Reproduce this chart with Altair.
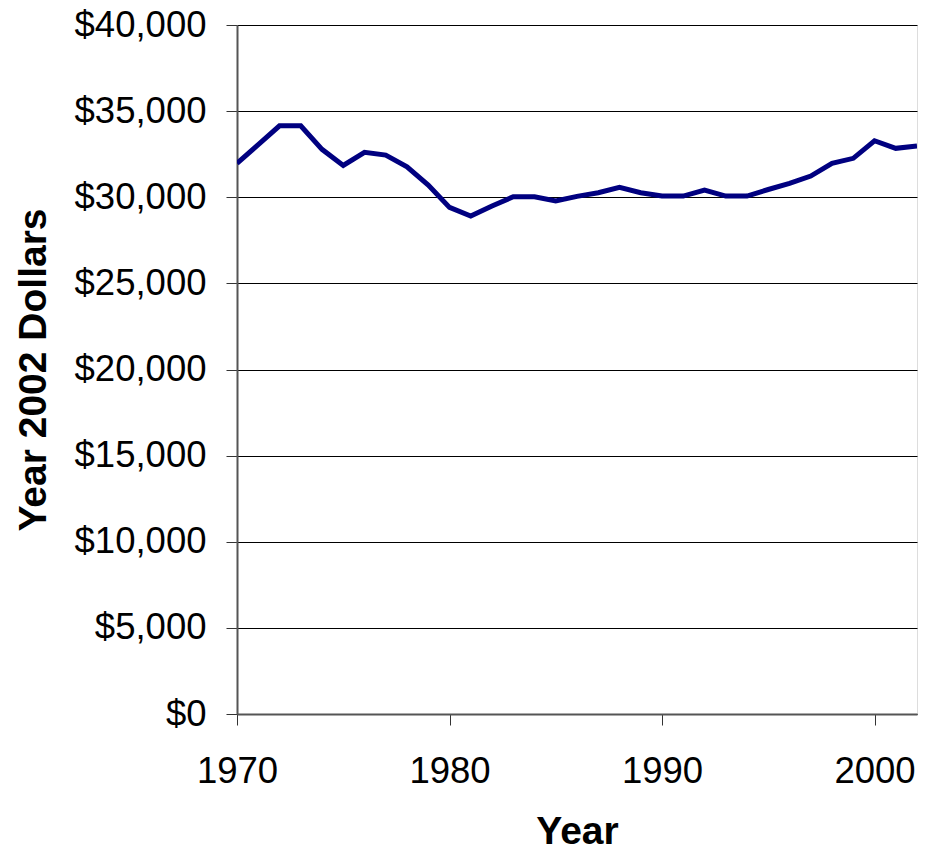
import altair as alt
import pandas as pd

years = list(range(1970, 2003))
dollars = [31970, 33050, 34150, 34150, 32780, 31850, 32610, 32450, 31770, 30710,
           29410, 28910, 29490, 30030, 30030, 29780, 30050, 30260, 30570, 30260,
           30070, 30070, 30420, 30070, 30070, 30450, 30800, 31230, 31970, 32260,
           33280, 32840, 32970]
x_ticks = [1970, 1980, 1990, 2000]
y_ticks = [0, 5000, 10000, 15000, 20000, 25000, 30000, 35000, 40000]

df = pd.DataFrame({"Year": years, "Dollars": dollars})

FONT = "Liberation Sans"

chart = alt.Chart(df).mark_line(
    color="#000080", strokeWidth=5, strokeJoin="miter", clip=True
).encode(
    x=alt.X("Year:Q",
            scale=alt.Scale(domain=[1970, 2002], nice=False, zero=False),
            axis=alt.Axis(values=x_ticks, format="d", grid=False,
                          title="Year", tickSize=11, labelPadding=28,
                          labelFontSize=36.5, labelFont=FONT, labelColor="#000",
                          titleFontSize=39, titleFont=FONT, titleFontWeight="bold",
                          titleColor="#000", titleBaseline="alphabetic", titleY=129,
                          domainColor="#555", domainWidth=2,
                          tickColor="#333", tickWidth=1, labelFlush=False)),
    y=alt.Y("Dollars:Q",
            scale=alt.Scale(domain=[0, 40000], nice=False),
            axis=alt.Axis(values=y_ticks, format="$,.0f", grid=True,
                          gridColor="#000", gridWidth=1, gridOpacity=1,
                          title="Year 2002 Dollars", tickSize=11, labelPadding=20,
                          labelFontSize=36.5, labelFont=FONT, labelColor="#000",
                          titleFontSize=39, titleFont=FONT, titleFontWeight="bold",
                          titleColor="#000", titleBaseline="alphabetic",
                          titleX=-192, titleAngle=270,
                          domainColor="#555", domainWidth=2,
                          tickColor="#333", tickWidth=1, labelFlush=False)),
).properties(
    width=680,
    height=689,
    autosize=alt.AutoSizeParams(type="none"),
    padding={"left": 229, "top": 17, "right": 1, "bottom": 130},
).configure_view(
    stroke="#808080", strokeWidth=2
).configure(background="white")

chart.save("out.html", embed_options={"renderer": "svg", "actions": False})
